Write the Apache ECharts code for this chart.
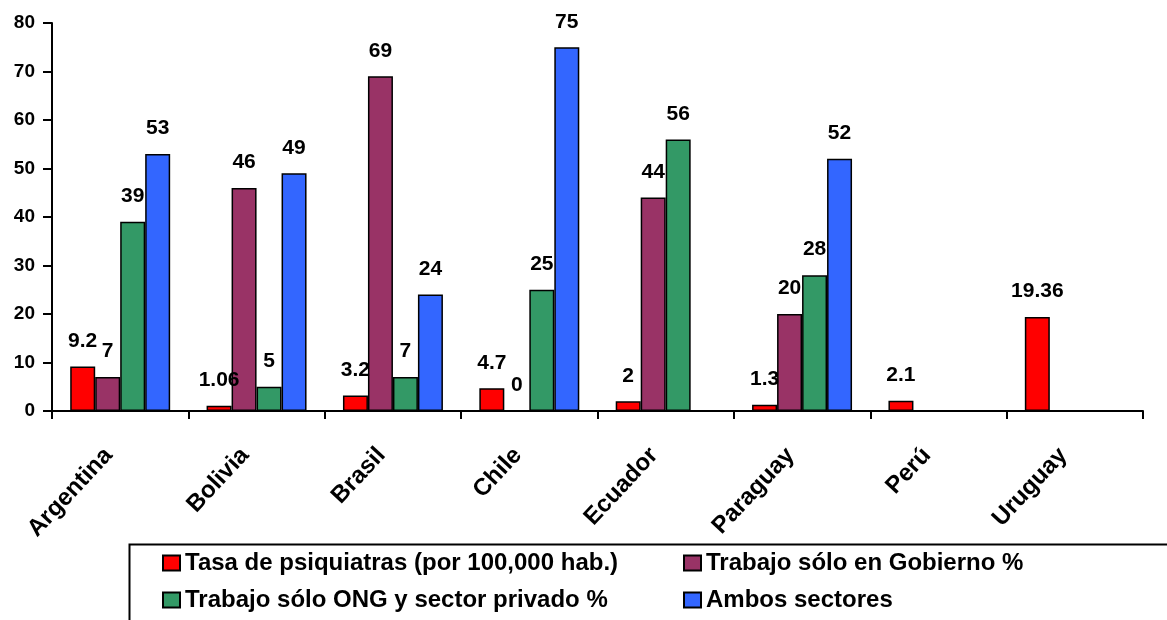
<!DOCTYPE html>
<html>
<head>
<meta charset="utf-8">
<script src="https://cdn.jsdelivr.net/npm/echarts@6/dist/echarts.min.js"></script>
<style>
  html, body { margin: 0; padding: 0; background: #fff; }
  #chart { width: 1167px; height: 620px; }
</style>
</head>
<body>
<div id="chart"></div>
<script>
// Countries on the category axis
const countries = ['Argentina', 'Bolivia', 'Brasil', 'Chile', 'Ecuador', 'Paraguay', 'Perú', 'Uruguay'];

// Series names
const seriesNames = [
  'Tasa de psiquiatras (por 100,000 hab.)',
  'Trabajo sólo en Gobierno %',
  'Trabajo sólo ONG y sector privado %',
  'Ambos sectores'
];

// Values per country (null = no data)
const tasaPsiquiatras = [9.2, 1.06, 3.2, 4.7, 2, 1.3, 2.1, 19.36];
const soloGobierno    = [7, 46, 69, 0, 44, 20, null, null];
const soloOngPrivado  = [39, 5, 7, 25, 56, 28, null, null];
const ambosSectores   = [53, 49, 24, 75, null, 52, null, null];

// Value axis ticks
const yMin = 0, yMax = 80, yStep = 10;

const colors = ['#FF0000', '#993366', '#339966', '#3366FF'];
const font = 'Liberation Sans, Arial, Helvetica, sans-serif';

const chart = echarts.init(document.getElementById('chart'), null, { renderer: 'canvas' });

function barSeries(name, data, color) {
  return {
    name: name,
    type: 'bar',
    data: data,
    barGap: '0%',
    barCategoryGap: '26.7%',
    itemStyle: { color: color, borderColor: '#000', borderWidth: 1.5 },
    label: {
      show: true,
      position: 'top',
      distance: 15,
      color: '#000',
      fontFamily: font,
      fontWeight: 'bold',
      fontSize: 21
    },
    emphasis: { disabled: true }
  };
}

const legendText = {
  color: '#000',
  fontFamily: font,
  fontWeight: 'bold',
  fontSize: 24,
  lineHeight: 24
};

chart.setOption({
  animation: false,
  backgroundColor: '#fff',
  grid: { left: 52, right: 24, top: 23, bottom: 209, containLabel: false },
  xAxis: {
    type: 'category',
    data: countries,
    axisLine: { lineStyle: { color: '#000', width: 2 } },
    axisTick: { show: true, length: 8, lineStyle: { color: '#000', width: 2 } },
    axisLabel: {
      rotate: 47,
      margin: 28,
      padding: [0, 17, 0, 0],
      color: '#000',
      fontFamily: font,
      fontWeight: 'bold',
      fontSize: 24
    }
  },
  yAxis: {
    type: 'value',
    min: yMin,
    max: yMax,
    interval: yStep,
    splitLine: { show: false },
    axisLine: { show: true, lineStyle: { color: '#000', width: 2 } },
    axisTick: { show: true, length: 9, lineStyle: { color: '#000', width: 2 } },
    axisLabel: {
      margin: 17,
      color: '#000',
      fontFamily: font,
      fontWeight: 'bold',
      fontSize: 19
    }
  },
  legend: [
    {
      data: [seriesNames[0], seriesNames[2]],
      orient: 'vertical',
      left: 157,
      top: 546,
      itemWidth: 17,
      itemHeight: 15,
      itemGap: 13,
      icon: 'rect',
      textStyle: legendText,
      selectedMode: false
    },
    {
      data: [seriesNames[1], seriesNames[3]],
      orient: 'vertical',
      left: 678,
      top: 546,
      itemWidth: 17,
      itemHeight: 15,
      itemGap: 13,
      icon: 'rect',
      textStyle: legendText,
      selectedMode: false
    }
  ],
  graphic: [
    {
      type: 'rect',
      left: 127,
      top: 542,
      shape: { width: 1100, height: 120 },
      style: { fill: 'none', stroke: '#000', lineWidth: 2 },
      silent: true
    }
  ],
  series: [
    barSeries(seriesNames[0], tasaPsiquiatras, colors[0]),
    barSeries(seriesNames[1], soloGobierno, colors[1]),
    barSeries(seriesNames[2], soloOngPrivado, colors[2]),
    barSeries(seriesNames[3], ambosSectores, colors[3])
  ]
});
</script>
</body>
</html>
